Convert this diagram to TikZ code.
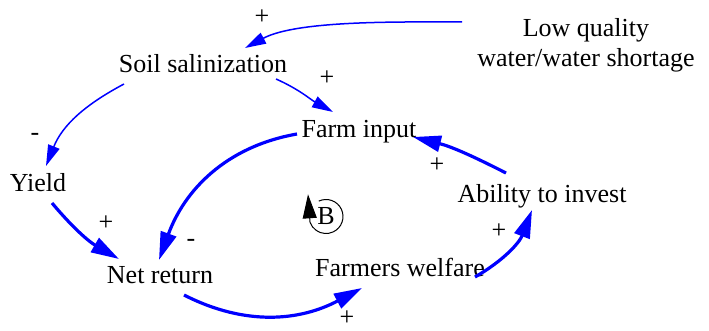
\documentclass[tikz,border=0pt]{standalone}
\usepackage{fontspec}
\setmainfont{Liberation Serif}
\usetikzlibrary{arrows.meta}
\definecolor{linkc}{HTML}{0000FF}
\tikzset{
  var/.style={inner sep=0pt, font=\fontsize{26}{30}\selectfont, anchor=base},
  sign/.style={inner sep=0pt, font=\fontsize{26}{30}\selectfont},
  thinlink/.style={draw=linkc, line width=1.5pt, -{Triangle[length=21pt,width=12pt]}},
  boldlink/.style={draw=linkc, line width=3.2pt, -{Triangle[length=28pt,width=16pt]}},
}

\begin{document}
\begin{tikzpicture}[x=1pt,y=1pt]
\useasboundingbox (0,0) rectangle (709,331);
% variables
\node[var] (soil) at (203,258) {Soil salinization};
\node[var] (farm) at (359,193) {Farm input};
\node[var] (yield) at (38,139) {Yield};
\node[var] (net) at (160,47) {Net return};
\node[var] (welfare) at (400,54) {Farmers welfare};
\node[var] (invest) at (542,128) {Ability to invest};
\node[var, anchor=center, align=center] (water) at (586,286) {Low quality\\water/water shortage};
% links
\draw[thinlink] ([shift={(-124,23)}]water.center) to[out=180,in=28,looseness=0.7] ([shift={(42,25)}]soil.base);
\draw[thinlink] ([shift={(73,-6)}]soil.base) to[out=-24,in=151] ([shift={(-26,26)}]farm.base);
\draw[thinlink] ([shift={(-79,-11)}]soil.base) to[out=208,in=68] ([shift={(8,26)}]yield.base);
\draw[boldlink] ([shift={(14,-11)}]yield.base) to[out=-50,in=150] ([shift={(-41,25)}]net.base);
\draw[boldlink] ([shift={(-62,4)}]farm.base) to[out=190,in=70] ([shift={(-1,24)}]net.base);
\draw[boldlink] ([shift={(24,-11)}]net.base) to[out=-27,in=208] ([shift={(-38,-11)}]welfare.base);
\draw[boldlink] ([shift={(75,0)}]welfare.base) to[out=30,in=249] ([shift={(-10,-7)}]invest.base);
\draw[boldlink] ([shift={(-36,30)}]invest.base) to[out=153,in=-14] ([shift={(54,1)}]farm.base);
% polarities
\node[sign] (s1) at (262,314) {+};
\node[sign] (s2) at (327,253) {+};
\node[sign] (s3) at (35,194) {-};
\node[sign] (s4) at (106,108) {+};
\node[sign] (s5) at (191,88) {-};
\node[sign] (s6) at (347,13) {+};
\node[sign] (s7) at (499,100) {+};
\node[sign] (s8) at (437,166) {+};
% loop marker
\node[sign] (loopB) at (326,114.5) {B};
\draw[line width=1pt, -{Triangle[length=24pt,width=14pt]}] ([shift={(115:17)}]loopB.center) arc[start angle=115, end angle=-160, radius=17] -- ++(-2,28);
\end{tikzpicture}
\end{document}
